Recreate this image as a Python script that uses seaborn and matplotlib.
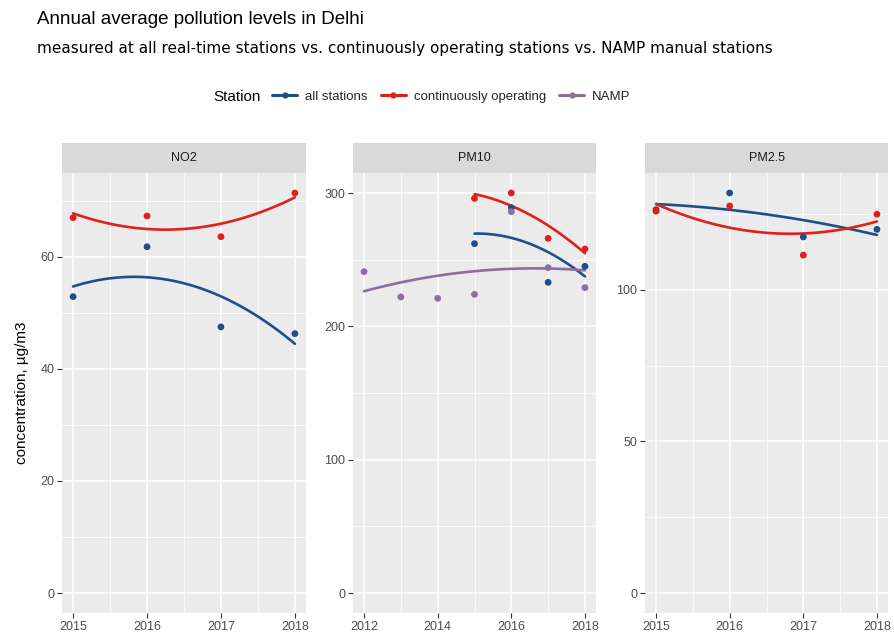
import numpy as np
import pandas as pd
import seaborn as sns
import matplotlib
matplotlib.use("Agg")
import matplotlib.pyplot as plt
from matplotlib.lines import Line2D

# ---- data ----
years = [2015, 2016, 2017, 2018]
namp_years = [2012, 2013, 2014, 2015, 2016, 2017, 2018]

no2_all = [52.9, 61.8, 47.5, 46.3]
no2_cont = [67.0, 67.3, 63.6, 71.4]

pm10_all = [262, 289, 233, 245]
pm10_cont = [296, 300, 266, 258]
pm10_namp = [241, 222, 221, 224, 286, 244, 229]

pm25_all = [126.5, 132.0, 117.5, 120.0]
pm25_cont = [126.0, 127.7, 111.5, 125.0]

stations = ["all stations", "continuously operating", "NAMP"]
pollutants = ["NO2", "PM10", "PM2.5"]
palette = {"all stations": "#1f4f8b", "continuously operating": "#e0201b", "NAMP": "#8e6e9e"}

x_breaks = {"NO2": [2015, 2016, 2017, 2018], "PM10": [2012, 2014, 2016, 2018], "PM2.5": [2015, 2016, 2017, 2018]}
y_breaks = {"NO2": [0, 20, 40, 60], "PM10": [0, 100, 200, 300], "PM2.5": [0, 50, 100]}

rows = []
def add(pol, st, xs, vals):
    for x, v in zip(xs, vals):
        rows.append({"pollutant": pol, "Station": st, "year": x, "value": v})
add("NO2", "all stations", years, no2_all)
add("NO2", "continuously operating", years, no2_cont)
add("PM10", "all stations", years, pm10_all)
add("PM10", "continuously operating", years, pm10_cont)
add("PM10", "NAMP", namp_years, pm10_namp)
add("PM2.5", "all stations", years, pm25_all)
add("PM2.5", "continuously operating", years, pm25_cont)
df = pd.DataFrame(rows)

# ---- styling ----
sns.set_theme(style="darkgrid")
plt.rcParams["font.family"] = ["Liberation Sans", "DejaVu Sans"]
plt.rcParams["axes.facecolor"] = "#EBEBEB"
plt.rcParams["grid.color"] = "white"

W, H = 894, 641
fig = plt.figure(figsize=(W / 100, H / 100), dpi=100)
fig.patch.set_facecolor("white")

panels = [(62, 306), (353, 596), (645, 888)]
top, bottom, strip_top = 173, 613, 143

for pol, (l, r) in zip(pollutants, panels):
    ax = fig.add_axes([l / W, 1 - bottom / H, (r - l) / W, (bottom - top) / H])
    sub = df[df.pollutant == pol]
    for st in stations:
        s = sub[sub.Station == st]
        if s.empty:
            continue
        c = palette[st]
        sns.regplot(data=s, x="year", y="value", order=2, ci=None, scatter=False,
                    truncate=True, ax=ax, line_kws=dict(color=c, lw=1.9, zorder=2))
        sns.scatterplot(data=s, x="year", y="value", color=c, s=24, edgecolor="none",
                        ax=ax, zorder=3, legend=False)
    xmin, xmax = sub.year.min(), sub.year.max()
    xr = xmax - xmin
    ax.set_xlim(xmin - 0.05 * xr, xmax + 0.05 * xr)
    ymax = sub.value.max()
    ax.set_ylim(-0.05 * ymax, ymax * 1.05)
    xb = x_breaks[pol]
    yb = y_breaks[pol]
    ax.set_xticks(xb)
    ax.set_xticklabels([str(v) for v in xb])
    ax.set_yticks(yb)
    ax.set_yticklabels([str(v) for v in yb])
    ax.set_xticks([(a + b) / 2 for a, b in zip(xb[:-1], xb[1:])], minor=True)
    ym = [(a + b) / 2 for a, b in zip(yb[:-1], yb[1:])] + [yb[-1] + (yb[1] - yb[0]) / 2]
    ax.set_yticks([v for v in ym if v < ymax * 1.05], minor=True)
    ax.grid(which="major", color="white", lw=1.1)
    ax.grid(which="minor", color="white", lw=0.55)
    ax.set_axisbelow(True)
    for sp in ax.spines.values():
        sp.set_visible(False)
    ax.tick_params(which="major", length=3.5, width=0.8, color="#333333",
                   labelcolor="#4D4D4D", labelsize=9, pad=2, bottom=True, left=True)
    ax.tick_params(which="minor", length=0)
    ax.set_xlabel("")
    ax.set_ylabel("")

    sax = fig.add_axes([l / W, 1 - top / H, (r - l) / W, (top - strip_top) / H])
    sax.set_facecolor("#D9D9D9")
    sax.set_xticks([])
    sax.set_yticks([])
    sax.grid(False)
    for sp in sax.spines.values():
        sp.set_visible(False)
    sax.text(0.5, 0.5, pol, ha="center", va="center", fontsize=9, color="#1A1A1A",
             transform=sax.transAxes)

fig.text(22 / W, 1 - 393 / H, "concentration, µg/m3", rotation=90, ha="center",
         va="center", fontsize=11, color="black")

fig.text(37 / W, 1 - 20 / H, "Annual average pollution levels in Delhi", ha="left",
         va="center", fontsize=13.5, color="black")
fig.text(37 / W, 1 - 48 / H,
         "measured at all real-time stations vs. continuously operating stations vs. NAMP manual stations",
         ha="left", va="center", fontsize=11, color="black", family=["DejaVu Sans"])

fig.text(213 / W, 1 - 97 / H, "Station", ha="left", va="center", fontsize=11, color="black")
handles = [Line2D([], [], color=palette[s], lw=2.2, marker="o", markersize=3.5) for s in stations]
fig.legend(handles, stations, loc="center left", bbox_to_anchor=(272 / W, 1 - 97 / H),
           ncol=3, frameon=False, fontsize=9.5, handlelength=1.9, columnspacing=1.0,
           handletextpad=0.6, borderpad=0, borderaxespad=0)

fig.savefig("out.png", dpi=100)
